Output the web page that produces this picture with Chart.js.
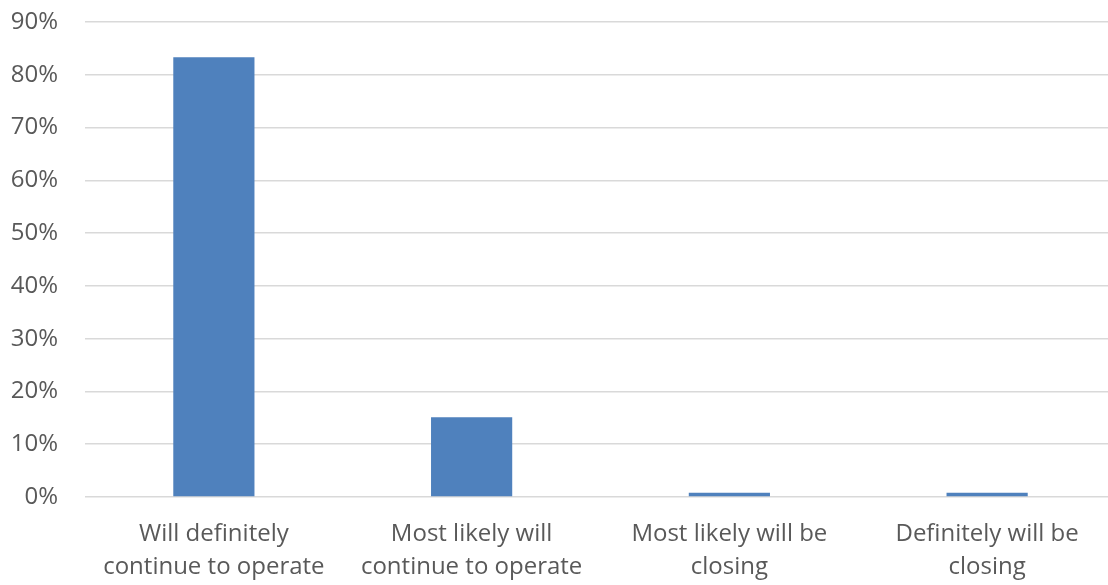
<!DOCTYPE html>
<html>
<head>
<meta charset="utf-8">
<script src="https://cdn.jsdelivr.net/npm/chart.js@4"></script>
<style>
  html, body { margin: 0; padding: 0; background: #fff; overflow: hidden; }
  #wrap { width: 1120px; height: 585px; }
</style>
</head>
<body>
<div id="wrap"><canvas id="chart" width="1120" height="585"></canvas></div>
<script>
// categories and values
const categories = [
  ['Will definitely', 'continue to operate'],
  ['Most likely will', 'continue to operate'],
  ['Most likely will be', 'closing'],
  ['Definitely will be', 'closing']
];
const shares = [83.3, 15.1, 0.8, 0.8];
const yTicks = [0, 10, 20, 30, 40, 50, 60, 70, 80, 90];

const textColor = '#595959';
const fontFamily = "'Open Sans', 'Liberation Sans', sans-serif";

new Chart(document.getElementById('chart'), {
  type: 'bar',
  data: {
    labels: categories,
    datasets: [{
      data: shares,
      backgroundColor: '#4f81bd',
      borderWidth: 0,
      categoryPercentage: 1,
      barPercentage: 0.315
    }]
  },
  options: {
    responsive: false,
    animation: false,
    layout: { padding: { top: 22, right: 4, left: 0, bottom: 0 } },
    plugins: {
      legend: { display: false },
      tooltip: { enabled: false }
    },
    scales: {
      x: {
        grid: { display: false },
        border: { display: false },
        ticks: {
          color: textColor,
          font: { family: fontFamily, size: 24, lineHeight: 1.4 },
          padding: 12,
          maxRotation: 0,
          autoSkip: false
        },
        afterFit: s => { s.height = 88; }
      },
      y: {
        min: 0,
        max: 90,
        afterBuildTicks: s => { s.ticks = yTicks.map(v => ({ value: v })); },
        grid: { color: '#d9d9d9', lineWidth: 1.5, drawTicks: false },
        border: { display: false },
        ticks: {
          color: textColor,
          font: { family: fontFamily, size: 24 },
          padding: 27,
          callback: v => v + '%'
        },
        afterFit: s => { s.width = 85; s.paddingTop = 0; s.paddingBottom = 0; }
      }
    }
  }
});
</script>
</body>
</html>
